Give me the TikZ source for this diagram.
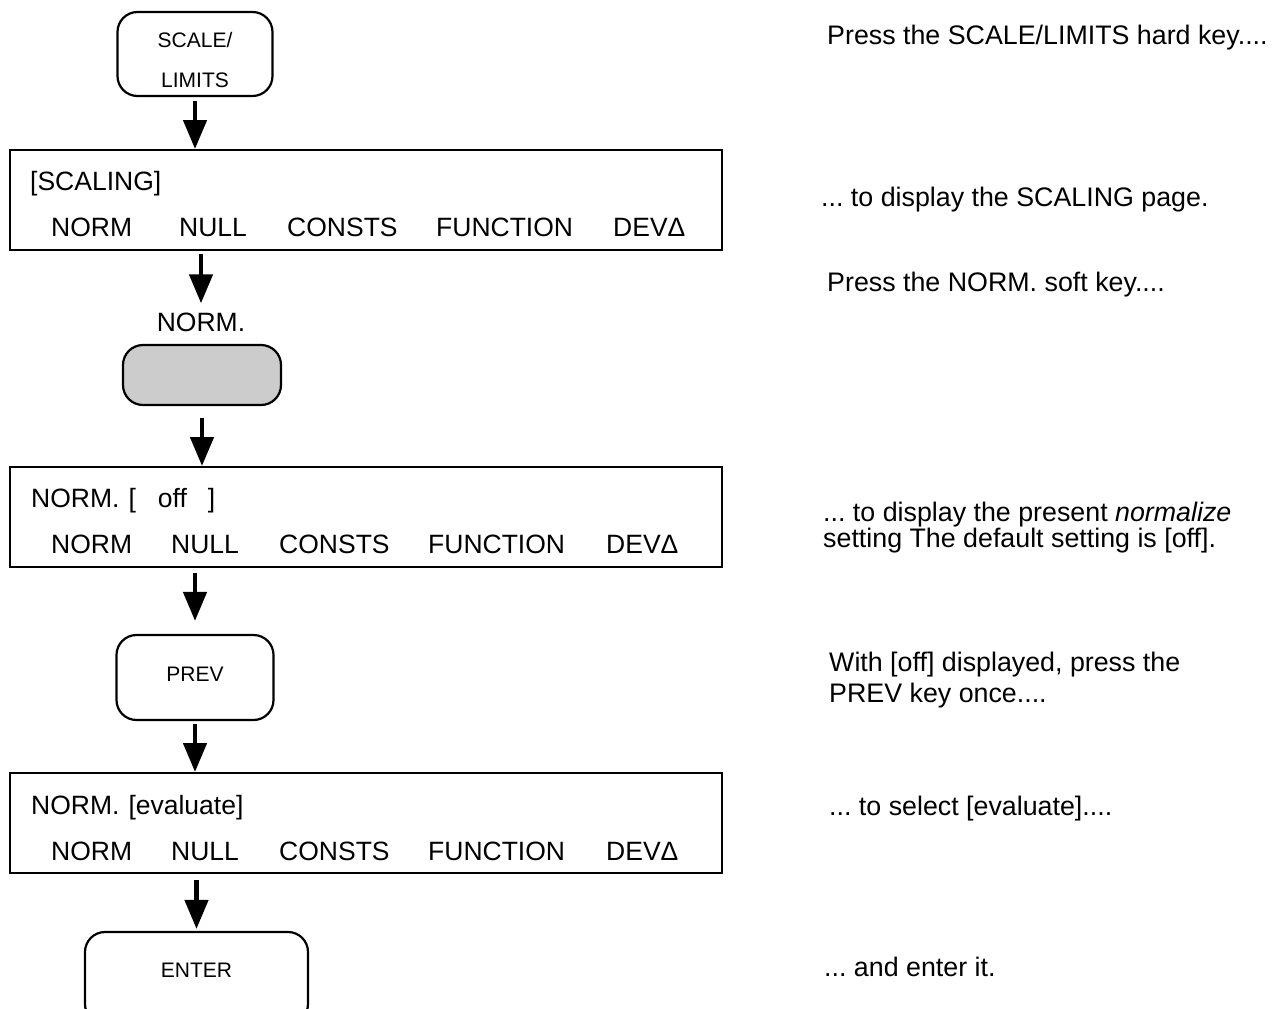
\documentclass[tikz,border=0pt]{standalone}
\usepackage{fontspec}
\setmainfont{Liberation Sans}
\usetikzlibrary{arrows.meta}
\definecolor{keygray}{HTML}{CCCCCC}
\frenchspacing
\begin{document}
\begin{tikzpicture}[x=1pt,y=-1pt,
  key/.style={draw, line width=2.2pt, rounded corners=20pt, inner sep=0pt},
  keytxt/.style={font=\fontsize{21}{25}\selectfont, inner sep=0pt, anchor=base},
  scr/.style={draw, line width=2pt, inner sep=0pt, minimum width=712pt, minimum height=100pt},
  big/.style={font=\fontsize{26.5}{30}\selectfont, inner sep=0pt, anchor=base west},
  note/.style={font=\fontsize{26.8}{30}\selectfont, inner sep=0pt, anchor=base west},
  arr/.style={line width=4.6pt, -{Triangle[width=23pt,length=29pt]}}
]
\useasboundingbox (0,0) rectangle (1282,1009);
\clip (0,0) rectangle (1282,1009);

% SCALE/LIMITS key
\node[key, minimum width=155pt, minimum height=84pt] (k1) at (195,54) {};
\node[keytxt] (k1a) at (195,47.5) {SCALE/};
\node[keytxt] (k1b) at (195,87.5) {LIMITS};

% screen 1
\node[scr] (b1) at (366,200) {};
\node[big] (b1h) at (30,190) {[SCALING]};
\node[big] (b1r1) at (51,236) {NORM};
\node[big] (b1r2) at (179,236) {NULL};
\node[big] (b1r3) at (287,236) {CONSTS};
\node[big] (b1r4) at (436,236) {FUNCTION};
\node[big] (b1r5) at (613,236) {DEVΔ};

% NORM. soft key
\node[font=\fontsize{26.5}{30}\selectfont, inner sep=0pt, anchor=base] (nl) at (201,331) {NORM.};
\node[key, fill=keygray, minimum width=158pt, minimum height=60pt] (g) at (202,375) {};

% screen 2
\node[scr] (b2) at (366,517) {};
\node[big] (b2h) at (31,507) {NORM.\hspace{9pt}[\hspace{22pt}off\hspace{21pt}]};
\node[big] (b2r1) at (51,553) {NORM};
\node[big] (b2r2) at (171,553) {NULL};
\node[big] (b2r3) at (279,553) {CONSTS};
\node[big] (b2r4) at (428,553) {FUNCTION};
\node[big] (b2r5) at (606,553) {DEVΔ};

% PREV key
\node[key, minimum width=157pt, minimum height=85pt] (k2) at (195,677.5) {};
\node[keytxt] (k2t) at (195,681) {PREV};

% screen 3
\node[scr] (b3) at (366,823) {};
\node[big] (b3h) at (31,814) {NORM.\hspace{9pt}[evaluate]};
\node[big] (b3r1) at (51,860) {NORM};
\node[big] (b3r2) at (171,860) {NULL};
\node[big] (b3r3) at (279,860) {CONSTS};
\node[big] (b3r4) at (428,860) {FUNCTION};
\node[big] (b3r5) at (606,860) {DEVΔ};

% ENTER key
\node[key, minimum width=223pt, minimum height=92pt] (k3) at (196.5,978) {};
\node[keytxt] (k3t) at (196.5,977.5) {ENTER};

% connectors
\draw[arr, shorten <=4pt] (k1.south) -- (k1.south |- b1.north);
\draw[arr, shorten <=3pt, shorten >=9pt] (b1.south -| nl.north) -- (nl.north);
\draw[arr, shorten <=12pt] (g.south) -- (g.south |- b2.north);
\draw[arr, shorten <=5pt, shorten >=13pt] (b2.south -| k2.north) -- (k2.north);
\draw[arr, shorten <=3pt] (k2.south) -- (k2.south |- b3.north);
\draw[arr, shorten <=6pt, shorten >=2pt] (b3.south -| k3.north) -- (k3.north);

% notes
\node[note] (t1) at (827,44) {Press the SCALE/LIMITS hard key....};
\node[note] (t2) at (821,206) {... to display the SCALING page.};
\node[note] (t3) at (827,291) {Press the NORM. soft key....};
\node[note] (t4a) at (823,521) {... to display the present \textit{normalize}};
\node[note] (t4b) at (823,547) {setting The default setting is [off].};
\node[note] (t5a) at (829,671) {With [off] displayed, press the};
\node[note] (t5b) at (829,702) {PREV key once....};
\node[note] (t6) at (829,815) {... to select [evaluate]....};
\node[note] (t7) at (824,976) {... and enter it.};
\end{tikzpicture}
\end{document}
